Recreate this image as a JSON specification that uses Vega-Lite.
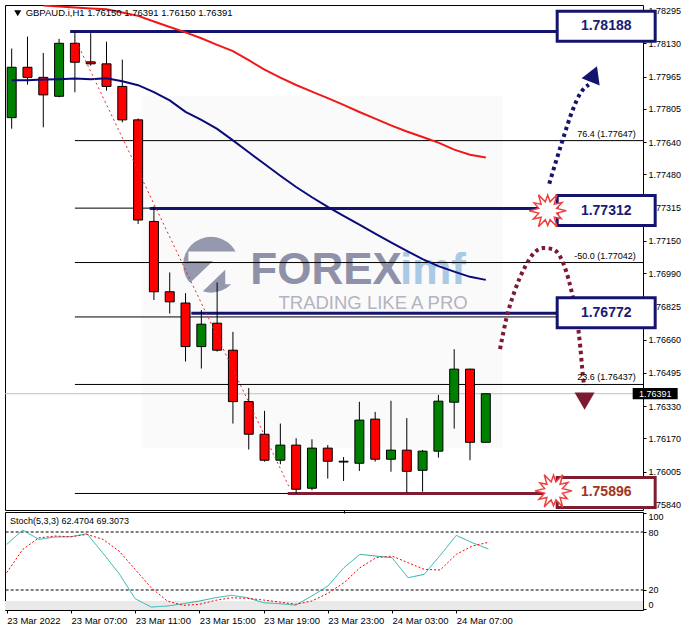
{
  "$schema": "https://vega.github.io/schema/vega-lite/v6.json",
  "background": "white",
  "padding": {"left": 4, "top": 4, "right": 0, "bottom": 0},
  "autosize": {"type": "pad"},
  "spacing": 2,
  "bounds": "flush",
  "resolve": {"scale": {"color": "independent", "stroke": "independent", "fill": "independent", "strokeDash": "independent"}},
  "config": {
    "view": {"stroke": "#000000", "strokeWidth": 1},
    "axis": {"domain": false, "grid": false, "labelFont": "Liberation Sans", "labelFontSize": 9, "labelColor": "#000000", "tickColor": "#000000", "title": null},
    "text": {"font": "Liberation Sans"}
  },
  "datasets": {
    "candles": [
      {"t":"2022-03-23T03:00:00Z","o":1.77761,"h":1.78104,"l":1.77706,"c":1.78011},
      {"t":"2022-03-23T04:00:00Z","o":1.78011,"h":1.78163,"l":1.77925,"c":1.77961},
      {"t":"2022-03-23T05:00:00Z","o":1.77961,"h":1.78082,"l":1.77713,"c":1.77874},
      {"t":"2022-03-23T06:00:00Z","o":1.77867,"h":1.78152,"l":1.77862,"c":1.78130},
      {"t":"2022-03-23T07:00:00Z","o":1.78130,"h":1.78188,"l":1.77887,"c":1.78036},
      {"t":"2022-03-23T08:00:00Z","o":1.78038,"h":1.78180,"l":1.78019,"c":1.78028},
      {"t":"2022-03-23T09:00:00Z","o":1.78028,"h":1.78138,"l":1.77895,"c":1.77916},
      {"t":"2022-03-23T10:00:00Z","o":1.77916,"h":1.78049,"l":1.77738,"c":1.77750},
      {"t":"2022-03-23T11:00:00Z","o":1.77750,"h":1.77757,"l":1.77233,"c":1.77253},
      {"t":"2022-03-23T12:00:00Z","o":1.77246,"h":1.77321,"l":1.76856,"c":1.76897},
      {"t":"2022-03-23T13:00:00Z","o":1.76897,"h":1.76993,"l":1.76789,"c":1.76847},
      {"t":"2022-03-23T14:00:00Z","o":1.76841,"h":1.76890,"l":1.76551,"c":1.76625},
      {"t":"2022-03-23T15:00:00Z","o":1.76625,"h":1.76806,"l":1.76516,"c":1.76736},
      {"t":"2022-03-23T16:00:00Z","o":1.76741,"h":1.76943,"l":1.76600,"c":1.76607},
      {"t":"2022-03-23T17:00:00Z","o":1.76607,"h":1.76698,"l":1.76243,"c":1.76352},
      {"t":"2022-03-23T18:00:00Z","o":1.76352,"h":1.76419,"l":1.76114,"c":1.76190},
      {"t":"2022-03-23T19:00:00Z","o":1.76190,"h":1.76306,"l":1.76054,"c":1.76061},
      {"t":"2022-03-23T20:00:00Z","o":1.76061,"h":1.76243,"l":1.76041,"c":1.76136},
      {"t":"2022-03-23T21:00:00Z","o":1.76136,"h":1.76170,"l":1.75896,"c":1.75917},
      {"t":"2022-03-23T22:00:00Z","o":1.75922,"h":1.76165,"l":1.75912,"c":1.76121},
      {"t":"2022-03-23T23:00:00Z","o":1.76121,"h":1.76136,"l":1.75970,"c":1.76056},
      {"t":"2022-03-24T00:00:00Z","o":1.76056,"h":1.76077,"l":1.75958,"c":1.76052},
      {"t":"2022-03-24T01:00:00Z","o":1.76046,"h":1.76351,"l":1.76008,"c":1.76260},
      {"t":"2022-03-24T02:00:00Z","o":1.76265,"h":1.76301,"l":1.76054,"c":1.76066},
      {"t":"2022-03-24T03:00:00Z","o":1.76066,"h":1.76356,"l":1.76004,"c":1.76111},
      {"t":"2022-03-24T04:00:00Z","o":1.76111,"h":1.76270,"l":1.75900,"c":1.76006},
      {"t":"2022-03-24T05:00:00Z","o":1.76011,"h":1.76112,"l":1.75905,"c":1.76106},
      {"t":"2022-03-24T06:00:00Z","o":1.76106,"h":1.76385,"l":1.76074,"c":1.76354},
      {"t":"2022-03-24T07:00:00Z","o":1.76349,"h":1.76612,"l":1.76218,"c":1.76513},
      {"t":"2022-03-24T08:00:00Z","o":1.76513,"h":1.76515,"l":1.76061,"c":1.76150},
      {"t":"2022-03-24T09:00:00Z","o":1.76150,"h":1.76391,"l":1.76150,"c":1.76391}
    ],
    "ma": [
      {"t":"2022-03-23T03:00:00Z","s":"fast","p":1.77947},
      {"t":"2022-03-23T04:00:00Z","s":"fast","p":1.77947},
      {"t":"2022-03-23T05:00:00Z","s":"fast","p":1.77950},
      {"t":"2022-03-23T06:00:00Z","s":"fast","p":1.77952},
      {"t":"2022-03-23T07:00:00Z","s":"fast","p":1.77955},
      {"t":"2022-03-23T08:00:00Z","s":"fast","p":1.77952},
      {"t":"2022-03-23T09:00:00Z","s":"fast","p":1.77957},
      {"t":"2022-03-23T10:00:00Z","s":"fast","p":1.77942},
      {"t":"2022-03-23T11:00:00Z","s":"fast","p":1.77922},
      {"t":"2022-03-23T12:00:00Z","s":"fast","p":1.77888},
      {"t":"2022-03-23T13:00:00Z","s":"fast","p":1.77847},
      {"t":"2022-03-23T14:00:00Z","s":"fast","p":1.77790},
      {"t":"2022-03-23T15:00:00Z","s":"fast","p":1.77750},
      {"t":"2022-03-23T16:00:00Z","s":"fast","p":1.77705},
      {"t":"2022-03-23T17:00:00Z","s":"fast","p":1.77648},
      {"t":"2022-03-23T18:00:00Z","s":"fast","p":1.77589},
      {"t":"2022-03-23T19:00:00Z","s":"fast","p":1.77531},
      {"t":"2022-03-23T20:00:00Z","s":"fast","p":1.77473},
      {"t":"2022-03-23T21:00:00Z","s":"fast","p":1.77417},
      {"t":"2022-03-23T22:00:00Z","s":"fast","p":1.77366},
      {"t":"2022-03-23T23:00:00Z","s":"fast","p":1.77318},
      {"t":"2022-03-24T00:00:00Z","s":"fast","p":1.77273},
      {"t":"2022-03-24T01:00:00Z","s":"fast","p":1.77230},
      {"t":"2022-03-24T02:00:00Z","s":"fast","p":1.77186},
      {"t":"2022-03-24T03:00:00Z","s":"fast","p":1.77142},
      {"t":"2022-03-24T04:00:00Z","s":"fast","p":1.77100},
      {"t":"2022-03-24T05:00:00Z","s":"fast","p":1.77059},
      {"t":"2022-03-24T06:00:00Z","s":"fast","p":1.77024},
      {"t":"2022-03-24T07:00:00Z","s":"fast","p":1.76997},
      {"t":"2022-03-24T08:00:00Z","s":"fast","p":1.76971},
      {"t":"2022-03-24T09:00:00Z","s":"fast","p":1.76956},
      {"t":"2022-03-23T05:00:00Z","s":"slow","p":1.78317},
      {"t":"2022-03-23T06:00:00Z","s":"slow","p":1.78312},
      {"t":"2022-03-23T07:00:00Z","s":"slow","p":1.78307},
      {"t":"2022-03-23T08:00:00Z","s":"slow","p":1.78303},
      {"t":"2022-03-23T09:00:00Z","s":"slow","p":1.78299},
      {"t":"2022-03-23T10:00:00Z","s":"slow","p":1.78283},
      {"t":"2022-03-23T11:00:00Z","s":"slow","p":1.78266},
      {"t":"2022-03-23T12:00:00Z","s":"slow","p":1.78238},
      {"t":"2022-03-23T13:00:00Z","s":"slow","p":1.78211},
      {"t":"2022-03-23T14:00:00Z","s":"slow","p":1.78184},
      {"t":"2022-03-23T15:00:00Z","s":"slow","p":1.78155},
      {"t":"2022-03-23T16:00:00Z","s":"slow","p":1.78122},
      {"t":"2022-03-23T17:00:00Z","s":"slow","p":1.78091},
      {"t":"2022-03-23T18:00:00Z","s":"slow","p":1.78046},
      {"t":"2022-03-23T19:00:00Z","s":"slow","p":1.77999},
      {"t":"2022-03-23T20:00:00Z","s":"slow","p":1.77960},
      {"t":"2022-03-23T21:00:00Z","s":"slow","p":1.77923},
      {"t":"2022-03-23T22:00:00Z","s":"slow","p":1.77890},
      {"t":"2022-03-23T23:00:00Z","s":"slow","p":1.77858},
      {"t":"2022-03-24T00:00:00Z","s":"slow","p":1.77824},
      {"t":"2022-03-24T01:00:00Z","s":"slow","p":1.77789},
      {"t":"2022-03-24T02:00:00Z","s":"slow","p":1.77756},
      {"t":"2022-03-24T03:00:00Z","s":"slow","p":1.77723},
      {"t":"2022-03-24T04:00:00Z","s":"slow","p":1.77692},
      {"t":"2022-03-24T05:00:00Z","s":"slow","p":1.77665},
      {"t":"2022-03-24T06:00:00Z","s":"slow","p":1.77637},
      {"t":"2022-03-24T07:00:00Z","s":"slow","p":1.77602},
      {"t":"2022-03-24T08:00:00Z","s":"slow","p":1.77577},
      {"t":"2022-03-24T09:00:00Z","s":"slow","p":1.77563}
    ],
    "stoch": [
      {"t":"2022-03-23T03:00:00Z","s":"K","v":67.2},
      {"t":"2022-03-23T04:00:00Z","s":"K","v":82.0},
      {"t":"2022-03-23T05:00:00Z","s":"K","v":72.4},
      {"t":"2022-03-23T06:00:00Z","s":"K","v":74.8},
      {"t":"2022-03-23T07:00:00Z","s":"K","v":75.1},
      {"t":"2022-03-23T08:00:00Z","s":"K","v":78.2},
      {"t":"2022-03-23T09:00:00Z","s":"K","v":58.0},
      {"t":"2022-03-23T10:00:00Z","s":"K","v":37.0},
      {"t":"2022-03-23T11:00:00Z","s":"K","v":11.0},
      {"t":"2022-03-23T12:00:00Z","s":"K","v":2.4},
      {"t":"2022-03-23T13:00:00Z","s":"K","v":3.4},
      {"t":"2022-03-23T14:00:00Z","s":"K","v":5.8},
      {"t":"2022-03-23T15:00:00Z","s":"K","v":8.6},
      {"t":"2022-03-23T16:00:00Z","s":"K","v":12.0},
      {"t":"2022-03-23T17:00:00Z","s":"K","v":14.5},
      {"t":"2022-03-23T18:00:00Z","s":"K","v":12.0},
      {"t":"2022-03-23T19:00:00Z","s":"K","v":6.8},
      {"t":"2022-03-23T20:00:00Z","s":"K","v":5.8},
      {"t":"2022-03-23T21:00:00Z","s":"K","v":4.4},
      {"t":"2022-03-23T22:00:00Z","s":"K","v":13.8},
      {"t":"2022-03-23T23:00:00Z","s":"K","v":24.1},
      {"t":"2022-03-24T00:00:00Z","s":"K","v":43.0},
      {"t":"2022-03-24T01:00:00Z","s":"K","v":56.9},
      {"t":"2022-03-24T02:00:00Z","s":"K","v":55.1},
      {"t":"2022-03-24T03:00:00Z","s":"K","v":53.4},
      {"t":"2022-03-24T04:00:00Z","s":"K","v":32.7},
      {"t":"2022-03-24T05:00:00Z","s":"K","v":36.2},
      {"t":"2022-03-24T06:00:00Z","s":"K","v":55.8},
      {"t":"2022-03-24T07:00:00Z","s":"K","v":76.5},
      {"t":"2022-03-24T08:00:00Z","s":"K","v":68.9},
      {"t":"2022-03-24T09:00:00Z","s":"K","v":62.4704},
      {"t":"2022-03-23T03:00:00Z","s":"D","v":37.9},
      {"t":"2022-03-23T04:00:00Z","s":"D","v":62.0},
      {"t":"2022-03-23T05:00:00Z","s":"D","v":74.0},
      {"t":"2022-03-23T06:00:00Z","s":"D","v":75.8},
      {"t":"2022-03-23T07:00:00Z","s":"D","v":75.1},
      {"t":"2022-03-23T08:00:00Z","s":"D","v":77.5},
      {"t":"2022-03-23T09:00:00Z","s":"D","v":72.4},
      {"t":"2022-03-23T10:00:00Z","s":"D","v":60.3},
      {"t":"2022-03-23T11:00:00Z","s":"D","v":41.4},
      {"t":"2022-03-23T12:00:00Z","s":"D","v":22.3},
      {"t":"2022-03-23T13:00:00Z","s":"D","v":8.6},
      {"t":"2022-03-23T14:00:00Z","s":"D","v":4.1},
      {"t":"2022-03-23T15:00:00Z","s":"D","v":5.2},
      {"t":"2022-03-23T16:00:00Z","s":"D","v":9.3},
      {"t":"2022-03-23T17:00:00Z","s":"D","v":12.0},
      {"t":"2022-03-23T18:00:00Z","s":"D","v":11.4},
      {"t":"2022-03-23T19:00:00Z","s":"D","v":9.6},
      {"t":"2022-03-23T20:00:00Z","s":"D","v":7.5},
      {"t":"2022-03-23T21:00:00Z","s":"D","v":5.2},
      {"t":"2022-03-23T22:00:00Z","s":"D","v":8.6},
      {"t":"2022-03-23T23:00:00Z","s":"D","v":16.5},
      {"t":"2022-03-24T00:00:00Z","s":"D","v":27.5},
      {"t":"2022-03-24T01:00:00Z","s":"D","v":43.0},
      {"t":"2022-03-24T02:00:00Z","s":"D","v":53.4},
      {"t":"2022-03-24T03:00:00Z","s":"D","v":55.1},
      {"t":"2022-03-24T04:00:00Z","s":"D","v":48.2},
      {"t":"2022-03-24T05:00:00Z","s":"D","v":41.4},
      {"t":"2022-03-24T06:00:00Z","s":"D","v":40.7},
      {"t":"2022-03-24T07:00:00Z","s":"D","v":56.9},
      {"t":"2022-03-24T08:00:00Z","s":"D","v":65.5},
      {"t":"2022-03-24T09:00:00Z","s":"D","v":69.3073}
    ],
    "boxes": [
      {"t":"2022-03-24T16:37:00Z","p":1.78214,"label":"1.78188","kind":"upper"},
      {"t":"2022-03-24T16:37:00Z","p":1.77300,"label":"1.77312","kind":"upper"},
      {"t":"2022-03-24T16:37:00Z","p":1.76793,"label":"1.76772","kind":"upper"},
      {"t":"2022-03-24T16:37:00Z","p":1.75901,"label":"1.75896","kind":"lower"}
    ]
  },
  "vconcat": [
    {
      "width": 638,
      "height": 505,
      "encoding": {
        "x": {"field": "t", "type": "temporal",
          "scale": {"type": "utc", "nice": false, "domain": [{"year":2022,"month":3,"date":23,"hours":2,"minutes":53,"seconds":38,"utc":true},{"year":2022,"month":3,"date":24,"hours":18,"minutes":37,"seconds":48,"utc":true}]},
          "axis": {"values": [{"year":2022,"month":3,"date":24,"hours":0,"utc":true}], "labels": false, "domain": false, "tickSize": 3, "title": null}},
        "y": {"field": "p", "type": "quantitative",
          "scale": {"domain": [1.75814, 1.78320], "zero": false, "nice": false},
          "axis": {"orient": "right", "values": [1.78295,1.78130,1.77965,1.77805,1.77640,1.77480,1.77315,1.77150,1.76990,1.76825,1.76660,1.76495,1.76330,1.76170,1.76005,1.75840], "format": ".5f", "labelFlush": 3, "tickSize": 3, "labelPadding": 2, "domain": false, "title": null}}
      },
      "layer": [
        {
          "data": {"values": [{"t":"2022-03-23T11:14:00Z","t2":"2022-03-24T10:04:00Z","p":1.76122,"p2":1.77870}]},
          "mark": {"type": "rect", "fill": "#fafafb"},
          "encoding": {"x2": {"field": "t2"}, "y2": {"field": "p2"}}
        },
        {
          "data": {"values": [{"t":"2022-03-23T15:37:00Z","p":1.77031}]},
          "mark": {"type": "point", "shape": "circle", "filled": true, "fill": "#9698ae", "opacity": 1, "size": 3117, "strokeWidth": 0}
        },
        {
          "data": {"values": [{"t":"2022-03-23T15:37:00Z","p":1.77031}]},
          "mark": {"type": "point", "shape": "M -0.72 -0.42 L 0.95 -0.42 L 0.95 0.62 L 0.45 0.62 L 0.45 0.16 L -0.4 0.98 L -0.78 0.68 L 0.06 -0.12 L -0.72 -0.12 Z", "filled": true, "fill": "#fafafb", "opacity": 1, "size": 3969, "strokeWidth": 0}
        },
        {
          "data": {"values": [{"t":"2022-03-23T18:06:00Z","p":1.76935,"w":"FOREX"}]},
          "mark": {"type": "text", "align": "left", "baseline": "alphabetic", "fontSize": 44, "fontWeight": "bold", "font": "Liberation Sans", "fill": "#8f91a8"},
          "encoding": {"text": {"field": "w"}}
        },
        {
          "data": {"values": [{"t":"2022-03-24T03:34:00Z","p":1.76935,"w":"imf"}]},
          "mark": {"type": "text", "align": "left", "baseline": "alphabetic", "fontSize": 44, "fontWeight": "bold", "font": "Liberation Sans", "fill": "#a8cae5"},
          "encoding": {"text": {"field": "w"}}
        },
        {
          "data": {"values": [{"t":"2022-03-23T19:53:00Z","p":1.76811,"w":"TRADING LIKE A PRO"}]},
          "mark": {"type": "text", "align": "left", "baseline": "alphabetic", "fontSize": 18.5, "font": "Liberation Sans", "fill": "#b2b4c0"},
          "encoding": {"text": {"field": "w"}}
        },
        {
          "data": {"values": [
            {"t":"2022-03-23T07:00:00Z","t2":"2022-03-25T00:00:00Z","p":1.78188},
            {"t":"2022-03-23T07:00:00Z","t2":"2022-03-25T00:00:00Z","p":1.77647},
            {"t":"2022-03-23T07:00:00Z","t2":"2022-03-25T00:00:00Z","p":1.77312},
            {"t":"2022-03-23T07:00:00Z","t2":"2022-03-25T00:00:00Z","p":1.77042},
            {"t":"2022-03-23T07:00:00Z","t2":"2022-03-25T00:00:00Z","p":1.76772},
            {"t":"2022-03-23T07:00:00Z","t2":"2022-03-25T00:00:00Z","p":1.76437},
            {"t":"2022-03-23T07:00:00Z","t2":"2022-03-25T00:00:00Z","p":1.75896}
          ]},
          "mark": {"type": "rule", "color": "#000000", "strokeWidth": 1, "clip": true},
          "encoding": {"x2": {"field": "t2"}}
        },
        {
          "data": {"values": [{"t":"2022-03-23T02:00:00Z","t2":"2022-03-25T00:00:00Z","p":1.76391}]},
          "mark": {"type": "rule", "color": "#c0c0c0", "strokeWidth": 1, "clip": true},
          "encoding": {"x2": {"field": "t2"}}
        },
        {
          "data": {"values": [
            {"t":"2022-03-23T06:42:00Z","t2":"2022-03-24T13:28:00Z","p":1.78188,"kind":"upper"},
            {"t":"2022-03-23T11:44:00Z","t2":"2022-03-24T13:28:00Z","p":1.77310,"kind":"upper"},
            {"t":"2022-03-23T14:22:00Z","t2":"2022-03-24T13:28:00Z","p":1.76790,"kind":"upper"},
            {"t":"2022-03-23T20:28:00Z","t2":"2022-03-24T13:28:00Z","p":1.75896,"kind":"lower"}
          ]},
          "mark": {"type": "rule", "strokeWidth": 3, "clip": true},
          "encoding": {
            "x2": {"field": "t2"},
            "stroke": {"field": "kind", "type": "nominal", "scale": {"domain": ["upper","lower"], "range": ["#14146e","#7e1d31"]}, "legend": null}
          }
        },
        {
          "data": {"name": "candles"},
          "mark": {"type": "rule", "color": "#000000", "strokeWidth": 1, "clip": true},
          "encoding": {
            "y": {"field": "l", "type": "quantitative", "scale": {"domain": [1.75814, 1.78320], "zero": false, "nice": false},
              "axis": {"orient": "right", "values": [1.78295,1.78130,1.77965,1.77805,1.77640,1.77480,1.77315,1.77150,1.76990,1.76825,1.76660,1.76495,1.76330,1.76170,1.76005,1.75840], "format": ".5f", "labelFlush": 3, "tickSize": 3, "labelPadding": 2, "domain": false, "title": null}},
            "y2": {"field": "h"}
          }
        },
        {
          "data": {"name": "candles"},
          "mark": {"type": "bar", "size": 9, "stroke": "#000000", "strokeWidth": 1, "clip": true},
          "encoding": {
            "y": {"field": "o", "type": "quantitative", "scale": {"domain": [1.75814, 1.78320], "zero": false, "nice": false},
              "axis": {"orient": "right", "values": [1.78295,1.78130,1.77965,1.77805,1.77640,1.77480,1.77315,1.77150,1.76990,1.76825,1.76660,1.76495,1.76330,1.76170,1.76005,1.75840], "format": ".5f", "labelFlush": 3, "tickSize": 3, "labelPadding": 2, "domain": false, "title": null}},
            "y2": {"field": "c"},
            "fill": {"condition": {"test": "datum.c >= datum.o", "value": "#008000"}, "value": "#ff0000"}
          }
        },
        {
          "data": {"name": "ma"},
          "mark": {"type": "line", "strokeWidth": 2, "clip": true},
          "encoding": {
            "color": {"field": "s", "type": "nominal", "scale": {"domain": ["slow","fast"], "range": ["#f01818","#0a0a78"]}, "legend": null}
          }
        },
        {
          "data": {"values": [{"t":"2022-03-23T07:07:00Z","p":1.78135},{"t":"2022-03-23T20:35:00Z","p":1.75924}]},
          "mark": {"type": "line", "color": "#e02828", "strokeWidth": 1, "strokeDash": [2, 3], "clip": true},
          "encoding": {}
        },
        {
          "data": {"values": [
            {"t":"2022-03-24T13:01:00Z","p":1.77433},
            {"t":"2022-03-24T13:51:00Z","p":1.77647},
            {"t":"2022-03-24T14:29:00Z","p":1.77796},
            {"t":"2022-03-24T14:58:00Z","p":1.77880},
            {"t":"2022-03-24T15:31:00Z","p":1.77925}
          ]},
          "mark": {"type": "line", "color": "#14146e", "strokeWidth": 4, "strokeDash": [3.5, 3.5], "interpolate": "monotone"},
          "encoding": {}
        },
        {
          "data": {"values": [
            {"t":"2022-03-24T09:54:00Z","p":1.76612},
            {"t":"2022-03-24T10:19:00Z","p":1.76769},
            {"t":"2022-03-24T10:50:00Z","p":1.76902},
            {"t":"2022-03-24T11:28:00Z","p":1.77018},
            {"t":"2022-03-24T12:05:00Z","p":1.77092},
            {"t":"2022-03-24T12:39:00Z","p":1.77114},
            {"t":"2022-03-24T13:13:00Z","p":1.77109},
            {"t":"2022-03-24T13:50:00Z","p":1.77051},
            {"t":"2022-03-24T14:22:00Z","p":1.76918},
            {"t":"2022-03-24T14:47:00Z","p":1.76753},
            {"t":"2022-03-24T14:59:00Z","p":1.76620},
            {"t":"2022-03-24T15:08:00Z","p":1.76488},
            {"t":"2022-03-24T15:13:00Z","p":1.76430}
          ]},
          "mark": {"type": "line", "color": "#7b1a30", "strokeWidth": 4, "strokeDash": [3.5, 3.5], "interpolate": "monotone"},
          "encoding": {}
        },
        {
          "data": {"values": [{"t":"2022-03-24T15:50:00Z","p":1.77977}]},
          "mark": {"type": "point", "shape": "triangle-up", "angle": 22, "filled": true, "fill": "#14146e", "opacity": 1, "size": 380, "strokeWidth": 0}
        },
        {
          "data": {"values": [{"t":"2022-03-24T15:15:00Z","p":1.76354}]},
          "mark": {"type": "point", "shape": "triangle-down", "filled": true, "fill": "#7b1a30", "opacity": 1, "size": 400, "strokeWidth": 0}
        },
        {
          "data": {"name": "boxes"},
          "mark": {"type": "point", "shape": "M -1 -0.306 L 1 -0.306 L 1 0.306 L -1 0.306 Z", "filled": true, "fill": "#ffffff", "opacity": 1, "size": 9604, "strokeWidth": 3},
          "encoding": {
            "stroke": {"field": "kind", "type": "nominal", "scale": {"domain": ["upper","lower"], "range": ["#14146e","#7e1d31"]}, "legend": null}
          }
        },
        {
          "data": {"values": [{"t":"2022-03-24T12:55:00Z","p":1.77299},{"t":"2022-03-24T13:17:00Z","p":1.75909}]},
          "mark": {"type": "point", "shape": "M 1 0 L 0.483 0.129 L 0.736 0.425 L 0.354 0.354 L 0.5 0.866 L 0.129 0.483 L 0 0.8 L -0.129 0.483 L -0.5 0.866 L -0.354 0.354 L -0.779 0.45 L -0.483 0.129 L -1 0 L -0.483 -0.129 L -0.736 -0.425 L -0.354 -0.354 L -0.5 -0.866 L -0.129 -0.483 L 0 -0.85 L 0.129 -0.483 L 0.5 -0.866 L 0.354 -0.354 L 0.779 -0.45 L 0.483 -0.129 Z", "filled": true, "fill": "#ffffff", "stroke": "#f04040", "strokeWidth": 1.5, "opacity": 1, "size": 1369}
        },
        {
          "data": {"name": "boxes"},
          "mark": {"type": "text", "align": "center", "baseline": "middle", "fontSize": 14, "fontWeight": "bold", "font": "Liberation Sans"},
          "encoding": {
            "text": {"field": "label"},
            "fill": {"field": "kind", "type": "nominal", "scale": {"domain": ["upper","lower"], "range": ["#1a1a73","#a03520"]}, "legend": null}
          }
        },
        {
          "data": {"values": [
            {"t":"2022-03-24T18:29:00Z","p":1.77647,"label":"76.4 (1.77647)"},
            {"t":"2022-03-24T18:29:00Z","p":1.77042,"label":"-50.0 (1.77042)"},
            {"t":"2022-03-24T18:29:00Z","p":1.76437,"label":"23.6 (1.76437)"}
          ]},
          "mark": {"type": "text", "align": "right", "baseline": "bottom", "dy": -2, "fontSize": 9, "font": "Liberation Sans", "fill": "#000000"},
          "encoding": {"text": {"field": "label"}}
        },
        {
          "data": {"values": [{"t":"2022-03-23T03:23:00Z","p":1.78279}]},
          "mark": {"type": "point", "shape": "triangle-down", "filled": true, "fill": "#000000", "opacity": 1, "size": 50, "strokeWidth": 0}
        },
        {
          "data": {"values": [{"t":"2022-03-23T03:53:00Z","p":1.78279,"label":"GBPAUD.i,H1  1.76150 1.76391 1.76150 1.76391"}]},
          "mark": {"type": "text", "align": "left", "baseline": "middle", "fontSize": 9.5, "font": "Liberation Sans", "fill": "#000000"},
          "encoding": {"text": {"field": "label"}}
        },
        {
          "data": {"values": [{"t":"2022-03-24T19:43:00Z","p":1.76391,"label":"1.76391"}]},
          "mark": {"type": "point", "shape": "M -1 -0.25 L 1 -0.25 L 1 0.25 L -1 0.25 Z", "filled": true, "fill": "#000000", "opacity": 1, "size": 2025, "strokeWidth": 0}
        },
        {
          "data": {"values": [{"t":"2022-03-24T19:43:00Z","p":1.76391,"label":"1.76391"}]},
          "mark": {"type": "text", "align": "center", "baseline": "middle", "fontSize": 9, "font": "Liberation Sans", "fill": "#ffffff"},
          "encoding": {"text": {"field": "label"}}
        }
      ]
    },
    {
      "width": 638,
      "height": 98,
      "encoding": {
        "x": {"field": "t", "type": "temporal",
          "scale": {"type": "utc", "nice": false, "domain": [{"year":2022,"month":3,"date":23,"hours":2,"minutes":53,"seconds":38,"utc":true},{"year":2022,"month":3,"date":24,"hours":18,"minutes":37,"seconds":48,"utc":true}]},
          "axis": {
            "values": [
              {"year":2022,"month":3,"date":23,"hours":3,"utc":true},
              {"year":2022,"month":3,"date":23,"hours":7,"utc":true},
              {"year":2022,"month":3,"date":23,"hours":11,"utc":true},
              {"year":2022,"month":3,"date":23,"hours":15,"utc":true},
              {"year":2022,"month":3,"date":23,"hours":19,"utc":true},
              {"year":2022,"month":3,"date":23,"hours":23,"utc":true},
              {"year":2022,"month":3,"date":24,"hours":3,"utc":true},
              {"year":2022,"month":3,"date":24,"hours":7,"utc":true}
            ],
            "labelExpr": "utcFormat(datum.value, '%d %b %H:%M') == '23 Mar 03:00' ? '23 Mar 2022' : utcFormat(datum.value, '%d %b %H:%M')",
            "labelAlign": "left", "labelBaseline": "top", "labelPadding": 2, "tickSize": 3, "domain": false,
            "labelOverlap": false, "labelBound": false, "labelFlush": false, "labelFontSize": 9.5, "title": null
          }
        },
        "y": {"field": "v", "type": "quantitative",
          "scale": {"domain": [-0.69, 100.69], "zero": false, "nice": false},
          "axis": {"orient": "right", "values": [0, 20, 80, 100], "labelFlush": 3, "tickSize": 3, "labelPadding": 2, "domain": false, "title": null}}
      },
      "layer": [
        {
          "data": {"values": [{"t":"2022-03-23T02:00:00Z","t2":"2022-03-25T00:00:00Z","v":-0.69,"v2":8.6}]},
          "mark": {"type": "rect", "fill": "#e9e9e9", "clip": true},
          "encoding": {"x2": {"field": "t2"}, "y2": {"field": "v2"}}
        },
        {
          "data": {"values": [
            {"t":"2022-03-23T02:00:00Z","t2":"2022-03-25T00:00:00Z","v":80},
            {"t":"2022-03-23T02:00:00Z","t2":"2022-03-25T00:00:00Z","v":20}
          ]},
          "mark": {"type": "rule", "color": "#000000", "strokeWidth": 1, "strokeDash": [3, 2], "clip": true},
          "encoding": {"x2": {"field": "t2"}}
        },
        {
          "data": {"name": "stoch"},
          "mark": {"type": "line", "strokeWidth": 1, "clip": true},
          "encoding": {
            "color": {"field": "s", "type": "nominal", "scale": {"domain": ["K","D"], "range": ["#20b2aa","#ff0000"]}, "legend": null},
            "strokeDash": {"field": "s", "type": "nominal", "scale": {"domain": ["K","D"], "range": [[1, 0], [2, 2]]}, "legend": null}
          }
        },
        {
          "data": {"values": [{"t":"2022-03-23T03:12:00Z","v":91.3,"label":"Stoch(5,3,3) 62.4704 69.3073"}]},
          "mark": {"type": "text", "align": "left", "baseline": "middle", "fontSize": 9, "font": "Liberation Sans", "fill": "#000000"},
          "encoding": {"text": {"field": "label"}}
        }
      ]
    }
  ]
}
